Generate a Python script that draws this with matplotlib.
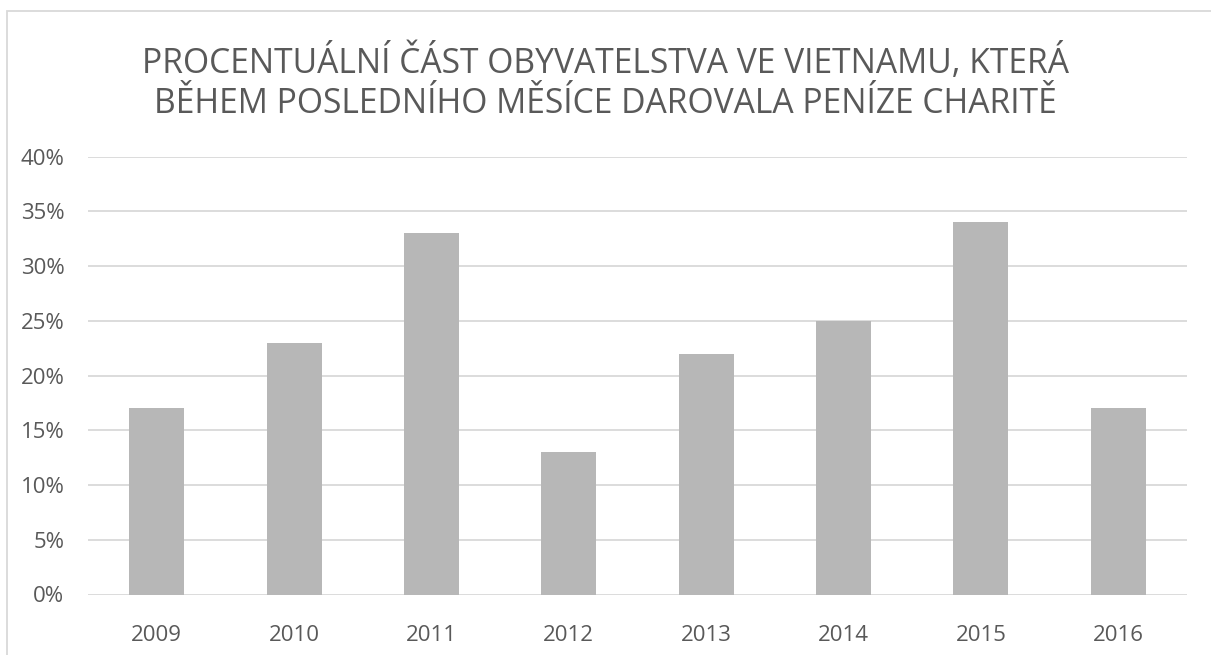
import matplotlib
matplotlib.use("Agg")
import matplotlib.pyplot as plt
from matplotlib.patches import Rectangle
from matplotlib.ticker import FuncFormatter, MultipleLocator

years = ["2009", "2010", "2011", "2012", "2013", "2014", "2015", "2016"]
values = [0.17, 0.23, 0.33, 0.13, 0.22, 0.25, 0.34, 0.17]
title = "PROCENTUÁLNÍ ČÁST OBYVATELSTVA VE VIETNAMU, KTERÁ\nBĚHEM POSLEDNÍHO MĚSÍCE DAROVALA PENÍZE CHARITĚ"

plt.rcParams['font.family'] = ['Open Sans', 'DejaVu Sans']
W, H = 1211, 655
fig = plt.figure(figsize=(W/100, H/100), dpi=100)
fig.patch.set_facecolor("white")

# chart border (left and top visible)
fig.patches.append(Rectangle((6.5/W, -0.1), 1.2, (H-10.5)/H + 0.1, transform=fig.transFigure,
                             fill=False, edgecolor="#d9d9d9", linewidth=1.3))

ax = fig.add_axes([88/W, 1-594.5/H, (1187-88)/W, (594.5-156.7)/H])
x = list(range(len(years)))
ax.bar(x, values, width=0.4, color="#b7b7b7", zorder=3)
ax.set_xlim(-0.5, len(years)-0.5)
ax.set_ylim(0, 0.40)
ax.yaxis.set_major_locator(MultipleLocator(0.05))
ax.yaxis.set_major_formatter(FuncFormatter(lambda v, p: f"{round(v*100)}%"))
ax.set_xticks(x)
ax.set_xticklabels(years)
ax.grid(axis="y", color="#d9d9d9", linewidth=1.3, zorder=0)
for s in ax.spines.values():
    s.set_visible(False)
ax.tick_params(axis="both", length=0, labelsize=16, colors="#595959")
ax.tick_params(axis="x", pad=22)
ax.tick_params(axis="y", pad=17)
for lab in ax.get_yticklabels():
    lab.set_horizontalalignment("right")

fig.text(0.5, 1-82/H, title, ha="center", va="center", fontsize=24.2, color="#595959",
         linespacing=1.22)

fig.savefig("out.png", dpi=100)
